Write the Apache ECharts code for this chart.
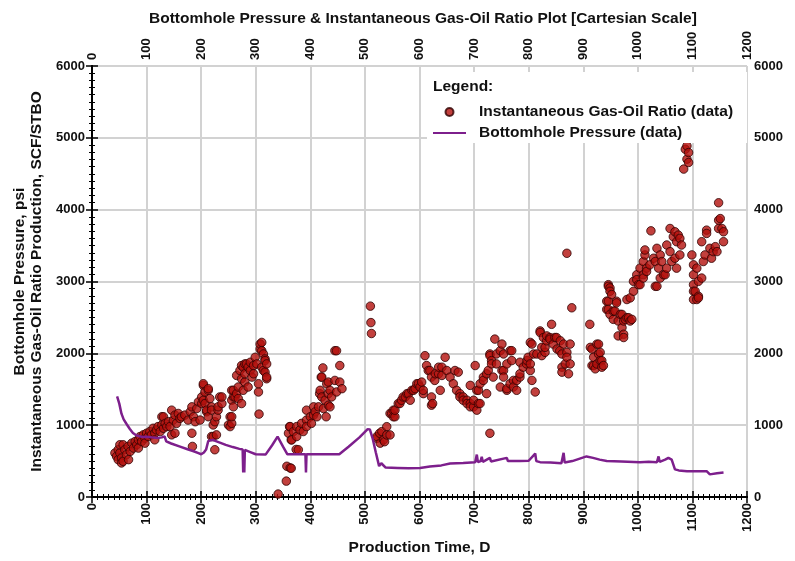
<!DOCTYPE html>
<html>
<head>
<meta charset="utf-8">
<script src="https://cdn.jsdelivr.net/npm/echarts/dist/echarts.min.js"></script>
<style>
  html, body { margin: 0; padding: 0; background: #fff; }
  #chart { width: 795px; height: 561px; }
</style>
</head>
<body>
<div id="chart"></div>
<script>
// Production time axis (days) and pressure / GOR axis ticks
const xTicks = [0, 100, 200, 300, 400, 500, 600, 700, 800, 900, 1000, 1100, 1200];
const yTicks = [0, 1000, 2000, 3000, 4000, 5000, 6000];

// Instantaneous gas-oil ratio samples [day, SCF/STBO], grouped by flow period
const gorPhase1 = [
  [42,612],[45,566],[48,520],[48,658],[51,612],[51,727],[54,543],[54,474],[57,497],[57,727],
  [60,658],[63,589],[66,704],[67,520],[70,635],[73,750],[76,681],[79,773],[82,727],[85,796],
  [85,681],[88,842],[91,773],[94,865],[97,819],[97,750],[100,888],[103,842],[106,911],[109,865],
  [112,957],[115,888],[115,796],[118,934],[121,980],[125,911],[128,1003],[128,1118],[131,957],[131,1117],
  [134,1025],[137,980],[140,1048],[143,980],[146,1209],[146,865],[149,1071],[152,1140],[152,888],[155,1025],
  [158,1163],[161,1094],[164,1117],[170,1140],[176,1071],[180,1186],[183,1255],[183,888],[184,704],[186,1117],
  [189,1048],[192,1232],[195,1324],[198,1071],[201,1301],[201,1393],[204,1554],[204,1347],[204,1577],[207,1462],
  [207,1301],[210,1186],[210,1209],[213,1117],[213,1485],[213,1508],[216,1370],[219,1255],[219,842],[219,1210],
  [222,1003],[222,842],[225,1048],[225,658],[228,1117],[228,865],[231,1209],[231,1255],[234,1393],[238,1301],
  [238,1393],[250,1003],[253,1117],[253,980],[256,1025],[256,1347],[256,1485],[256,1118],[259,1255],[259,1393],
  [259,1485],[262,1393],[265,1440],[265,1692],[268,1531],[268,1370],[271,1761],[274,1646],[274,1830],[274,1301],
  [277,1807],[277,1485],[280,1853],[280,1600],[280,1715],[283,1853],[286,1807],[286,1531],[290,1761],[290,1876],
  [293,1669],[296,1830],[296,1715],[299,1945],[302,1853],[305,1462],[305,1577],[306,1154],[308,2060],[308,2129],
  [311,2152],[311,1807],[311,2037],[314,1991],[314,1761],[317,1922],[317,1738],[317,1899],[320,1853],[320,1646],
  [320,1669]
];
const gorPhase2 = [
  [341,41],[356,221],[357,428],[363,405],[365,400],[374,662],[378,658],[360,888],[362,979],[363,980],
  [365,795],[366,796],[369,911],[375,980],[375,842],[381,934],[384,1025],[387,911],[393,1071],[393,980],
  [393,1209],[400,1117],[402,1025],[406,1140],[406,1255],[409,1186],[412,1117],[415,1255],[417,1439],[418,1485],
  [420,1669],[421,1393],[421,1669],[423,1797],[424,1232],[427,1347],[429,1117],[430,1577],[433,1600],[433,1278],
  [433,1439],[436,1485],[436,1255],[439,1393],[445,1623],[445,2037],[448,1462],[448,2036],[454,1830],[454,1600],
  [458,1508]
];
const gorPhase3 = [
  [510,2657],[511,2428],[512,2276],[522,818],[522,842],[527,887],[528,750],[531,911],[534,795],[536,770],
  [540,979],[540,864],[546,864],[546,1163],[549,1163],[552,1117],[552,1209],[555,1117],[555,1209],[561,1301],
  [564,1301],[567,1347],[570,1393],[574,1393],[577,1439],[580,1439],[583,1347],[586,1485],[589,1485],[592,1508],
  [595,1577],[598,1577],[601,1531],[604,1600],[607,1439],[607,1485],[610,1968],[613,1830],[616,1761],[619,1761],
  [622,1393],[622,1278],[622,1669],[624,1301],[628,1623],[629,1715],[635,1715],[635,1807],[638,1485],[641,1807],
  [641,1692],[647,1945],[650,1761],[656,1669],[662,1577],[665,1761],[668,1485],[671,1738],[674,1439],[674,1393],
  [680,1393],[680,1347],[687,1347],[687,1301],[693,1301],[693,1554],[693,1255],[699,1255],[699,1347],[702,1830],
  [705,1209],[705,1485],[708,1301],[708,1485],[711,1577],[711,1301],[717,1669],[717,1623],[723,1439],[723,1715],
  [726,1761],[729,1991],[729,887],[729,1968],[732,1899],[732,1853],[735,1669],[738,2198],[741,1853],[741,1991],
  [748,2037],[748,1531],[751,2129],[751,1761],[754,1991],[754,1761],[754,1669],[760,1853],[760,1485],[760,1508],
  [766,2037],[766,1577],[769,1899],[769,2037],[772,1623],[772,1531],[778,1485],[778,1623],[784,1876],[784,1669],
  [784,1715],[790,1807],[796,1853],[797,1899],[799,1945],[803,1761],[803,2152],[803,1853],[806,2129],[806,1623],
  [809,1991],[812,1462],[815,1991],[821,2312],[821,2290],[824,2083],[824,1968],[827,2220],[830,2014],[830,2083],
  [833,2174],[833,2243],[839,2220],[839,2197],[842,2404],[845,2129],[848,2220],[851,2220],[852,2060],[857,2037],
  [858,2175],[861,1807],[861,1991],[861,1738],[864,2129],[867,1853],[870,2014],[870,1945],[873,1715],[876,1853],
  [876,2129],[870,3393],[879,2634]
];
const gorPhase4 = [
  [912,2404],[913,2083],[916,2060],[916,1830],[919,1829],[919,1945],[922,1784],[925,1852],[925,2128],[928,2128],
  [928,1991],[931,2013],[931,1899],[934,1898],[934,1807],[937,1830],[943,2611],[943,2726],[946,2956],[946,2726],
  [946,2933],[946,2611],[949,2910],[949,2542],[949,2864],[952,2818],[955,2473],[955,2588],[958,2588],[961,2726],
  [961,2703],[964,2450],[964,2243],[968,2542],[971,2542],[971,2358],[974,2266],[974,2220],[974,2450],[977,2473],
  [980,2749],[980,2496],[983,2496],[986,2450],[986,2772],[989,2473],[992,2864],[992,3002],[998,3094],[998,3025],
  [1001,2956],[1004,3186],[1004,2956],[1010,3094],[1010,3278],[1010,3048],[1013,3370],[1013,3439],[1016,3186],[1016,3140],
  [1022,3232],[1024,3705],[1029,3324],[1032,3278],[1032,2933],[1035,3462],[1035,2933],[1038,3186],[1041,3370],[1041,3048],
  [1044,3278],[1047,3094],[1050,3094],[1053,3186],[1053,3508],[1059,3416],[1059,3738],[1062,3278],[1065,3623],[1068,3324],
  [1068,3692],[1071,3186],[1071,3554],[1074,3646],[1077,3370],[1077,3600],[1080,3508],[1084,4565],[1087,4841],[1090,4703],
  [1090,4887],[1093,4795],[1093,4657],[1099,3370],[1102,3232],[1102,3094],[1102,2956],[1102,2749],[1102,2864],[1105,2864],
  [1108,3186],[1108,2749],[1111,3002],[1111,2795],[1111,2772],[1117,3048],[1117,3554],[1120,3278],[1123,3370],[1126,3715],
  [1126,3669],[1132,3462],[1135,3324],[1138,3416],[1142,3485],[1145,3416],[1148,3853],[1148,3738],[1148,4096],[1151,3876],
  [1154,3738],[1157,3692],[1157,3554]
];

// Bottomhole pressure gauge record
const bhpDays = [
  46,50,54,58,63,69,75,81,87,93,100,110,120,128,133,136,145,160,175,185,
  195,200,205,209,213,216,221,233,245,258,270,276,277,278,279,280,290,300,318,330,
  340,350,358,375,391,392,393,420,453,470,490,505,509,514,520,526,530,533,538,560,
  580,601,619,640,656,680,702,705,707,712,714,716,729,731,760,762,784,800,812,814,
  821,840,860,864,866,880,906,918,930,943,970,1004,1020,1035,1038,1040,1050,1056,1062,1068,
  1075,1090,1110,1126,1132,1145,1157
];
const bhpPsi = [
  1400,1300,1160,1080,1020,950,890,860,845,835,840,830,820,830,845,775,745,705,665,640,
  610,595,620,660,780,800,795,760,725,695,670,660,340,660,340,655,625,595,590,720,
  840,700,595,595,595,340,595,595,595,700,830,945,940,820,620,430,470,480,410,405,
  400,405,425,440,465,475,485,590,485,500,560,490,545,495,545,500,500,505,605,500,
  485,480,470,615,480,500,565,545,520,500,495,485,490,485,565,490,520,545,520,385,
  370,360,360,360,315,330,340
];

const FONT = '"Liberation Sans", Arial, Helvetica, sans-serif';
const gorData = gorPhase1.concat(gorPhase2, gorPhase3, gorPhase4);
const bhpData = bhpDays.map((d, i) => [d, bhpPsi[i]]);

const plain = v => String(v);
const labelStyle = { fontFamily: FONT, fontWeight: 'bold', fontSize: 13, color: '#111', formatter: plain };
const axisLine = { show: true, lineStyle: { color: '#000', width: 2 } };
const axisTick = { show: true, inside: true, length: 6, lineStyle: { color: '#000', width: 1.5 } };
const minorTick = { show: true, splitNumber: 10, length: 3, lineStyle: { color: '#000', width: 1 } };
const gridLine = { show: true, lineStyle: { color: '#d2d2d2', width: 2 } };

function xAxisAt(position, withGrid, extra) {
  return Object.assign({
    type: 'value', position: position,
    min: xTicks[0], max: xTicks[xTicks.length - 1], interval: xTicks[1] - xTicks[0],
    axisLine: axisLine, axisTick: axisTick, minorTick: minorTick,
    axisLabel: Object.assign({ rotate: 90, margin: 6 }, labelStyle),
    splitLine: withGrid ? gridLine : { show: false }
  }, extra || {});
}
function yAxisAt(position, withGrid, extra) {
  return Object.assign({
    type: 'value', position: position,
    min: yTicks[0], max: yTicks[yTicks.length - 1], interval: yTicks[1] - yTicks[0],
    axisLine: axisLine, axisTick: axisTick, minorTick: minorTick,
    axisLabel: Object.assign({ margin: 7 }, labelStyle),
    splitLine: withGrid ? gridLine : { show: false }
  }, extra || {});
}

const chart = echarts.init(document.getElementById('chart'), null, { renderer: 'canvas' });
chart.setOption({
  animation: false,
  backgroundColor: '#fff',
  title: {
    text: 'Bottomhole Pressure & Instantaneous Gas-Oil Ratio Plot [Cartesian Scale]',
    left: 144, top: 6,
    textStyle: { fontFamily: FONT, fontWeight: 'bold', fontSize: 15.5, color: '#111' }
  },
  grid: { left: 92, right: 48, top: 66, bottom: 60 },
  xAxis: [
    xAxisAt('bottom', true, {
      name: 'Production Time, D', nameLocation: 'middle', nameGap: 43,
      nameTextStyle: { fontFamily: FONT, fontWeight: 'bold', fontSize: 15.5, color: '#111' }
    }),
    xAxisAt('top', false)
  ],
  yAxis: [
    yAxisAt('left', true, {
      name: 'Bottomhole Pressure, psi\nInstantaneous Gas-Oil Ratio Production, SCF/STBO',
      nameLocation: 'middle', nameGap: 45, nameRotate: 90,
      nameTextStyle: { fontFamily: FONT, fontWeight: 'bold', fontSize: 15.5, color: '#111', lineHeight: 17 }
    }),
    yAxisAt('right', false)
  ],
  legend: {
    left: 427, top: 72, orient: 'vertical',
    backgroundColor: '#fff',
    padding: [32, 14, 2, 5],
    itemWidth: 33, itemHeight: 8, itemGap: 5,
    textStyle: { fontFamily: FONT, fontWeight: 'bold', fontSize: 15.5, color: '#111', padding: [0, 0, 0, 8] },
    data: [
      { name: 'Instantaneous Gas-Oil Ratio (data)', icon: 'circle' },
      { name: 'Bottomhole Pressure (data)', itemStyle: { opacity: 0 } }
    ]
  },
  graphic: [{
    type: 'text', left: 433, top: 79, z: 100,
    style: { text: 'Legend:', fontFamily: FONT, fontWeight: 'bold', fontSize: 15.5, fill: '#111' }
  }],
  series: [
    {
      name: 'Instantaneous Gas-Oil Ratio (data)',
      type: 'scatter', xAxisIndex: 0, yAxisIndex: 0,
      data: gorData, symbol: 'circle', symbolSize: 8.5,
      itemStyle: { color: '#b3100c', borderColor: '#300202', borderWidth: 1 },
      z: 2
    },
    {
      name: 'Bottomhole Pressure (data)',
      type: 'line', xAxisIndex: 0, yAxisIndex: 0,
      data: bhpData, symbol: 'none', showSymbol: false,
      lineStyle: { color: '#7d1f8c', width: 2.5 },
      itemStyle: { color: '#7d1f8c' },
      z: 3
    }
  ]
});
</script>
</body>
</html>
